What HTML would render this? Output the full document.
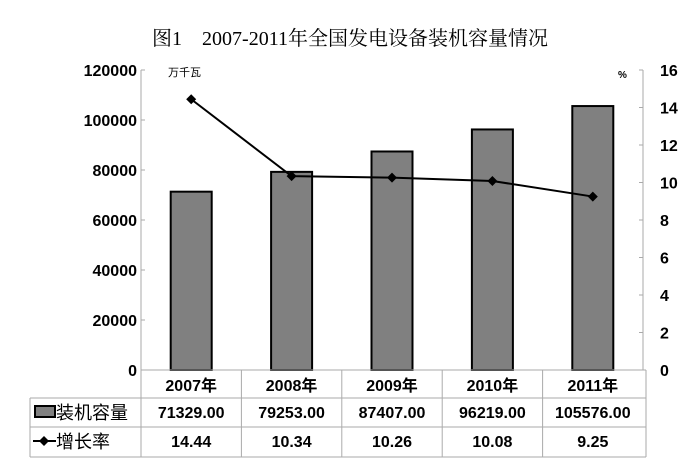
<!DOCTYPE html>
<html><head><meta charset="utf-8"><style>
body{margin:0;background:#fff;}
svg{display:block;font-family:"Liberation Sans","Noto Sans CJK SC",sans-serif;}
</style></head><body>
<svg id="c" width="700" height="475">
<text x="350" y="45" text-anchor="middle" font-size="20" font-family="'Liberation Serif','Noto Serif CJK SC',serif">图1　2007-2011年全国发电设备装机容量情况</text>
<text x="168" y="76" font-size="11">万千瓦</text>
<text x="618" y="78" font-size="10" font-weight="bold">%</text>
<g id="g"></g>
</svg>
<script>
const categories=["2007年","2008年","2009年","2010年","2011年"];
const capacity=[71329.00,79253.00,87407.00,96219.00,105576.00];
const growth=[14.44,10.34,10.26,10.08,9.25];
const leftTicks=[0,20000,40000,60000,80000,100000,120000];
const rightTicks=[0,2,4,6,8,10,12,14,16];
const capLabels=["71329.00","79253.00","87407.00","96219.00","105576.00"];
const growthLabels=["14.44","10.34","10.26","10.08","9.25"];

const NS="http://www.w3.org/2000/svg";
const g=document.getElementById('g');
const L=141,R=643,T=70,B=370;
const colW=(R-L)/categories.length;
const yL=v=>B-(v/120000)*(B-T);
const yR=v=>B-(v/16)*(B-T);
const xC=i=>L+colW*(i+0.5);
function mk(tag,a,txt){const e=document.createElementNS(NS,tag);for(const k in a)e.setAttribute(k,a[k]);if(txt!==undefined)e.textContent=txt;g.appendChild(e);return e;}

// axes
let e=mk('line',{x1:L,y1:T,x2:L,y2:B,stroke:'#aaa'});


e=mk('line',{x1:R,y1:T,x2:R,y2:B,stroke:'#aaa'});


leftTicks.forEach(v=>{
 mk('line',{x1:L,y1:yL(v),x2:L+4,y2:yL(v),stroke:'#aaa'});
 e=mk('text',{x:137,y:yL(v)+6,'text-anchor':'end','font-size':16,'font-weight':'bold'},String(v));
 
 
});
rightTicks.forEach(v=>{
 mk('line',{x1:R-4,y1:yR(v),x2:R,y2:yR(v),stroke:'#aaa'});
 e=mk('text',{x:660,y:yR(v)+6,'font-size':16,'font-weight':'bold'},String(v));
 
 
});
// bars
capacity.forEach((v,i)=>{
 e=mk('rect',{x:xC(i)-20.5,y:yL(v),width:41,height:B-yL(v),fill:'#808080',stroke:'#000','stroke-width':2});
 
 
});
// line
e=mk('polyline',{points:growth.map((v,i)=>xC(i)+','+yR(v)).join(' '),fill:'none',stroke:'#000','stroke-width':2});


growth.forEach((v,i)=>{
 const x=xC(i),y=yR(v);
 e=mk('polygon',{points:`${x},${y-5} ${x+5},${y} ${x},${y+5} ${x-5},${y}`,fill:'#000'});
 
 
});
// table
const rows=[371,398,427,457];
mk('line',{x1:L,y1:B,x2:R+3,y2:B,stroke:'#aaa'});
mk('line',{x1:30,y1:rows[1],x2:646,y2:rows[1],stroke:'#aaa'});
mk('line',{x1:30,y1:rows[2],x2:646,y2:rows[2],stroke:'#aaa'});
mk('line',{x1:30,y1:rows[3],x2:646,y2:rows[3],stroke:'#aaa'});
mk('line',{x1:30,y1:rows[1],x2:30,y2:rows[3],stroke:'#aaa'});
for(let i=0;i<=5;i++){mk('line',{x1:L+colW*i+(i==5?3:0),y1:B,x2:L+colW*i+(i==5?3:0),y2:rows[3],stroke:'#aaa'});}
categories.forEach((c,i)=>{
 e=mk('text',{x:xC(i),y:391,'text-anchor':'middle','font-size':16,'font-weight':'bold'},c);
 
 
 e=mk('text',{x:xC(i),y:418,'text-anchor':'middle','font-size':16,'font-weight':'bold'},capLabels[i]);
 
 
 e=mk('text',{x:xC(i),y:447,'text-anchor':'middle','font-size':16,'font-weight':'bold'},growthLabels[i]);
 
 
});
e=mk('rect',{x:35,y:406,width:20,height:11,fill:'#808080',stroke:'#000','stroke-width':2});


e=mk('text',{x:56,y:419,'font-size':18},'装机容量');


mk('line',{x1:33,y1:441,x2:56,y2:441,stroke:'#000','stroke-width':2});
e=mk('polygon',{points:'44,436 49,441 44,446 39,441',fill:'#000'});


e=mk('text',{x:56,y:448,'font-size':18},'增长率');


</script>
</body></html>
